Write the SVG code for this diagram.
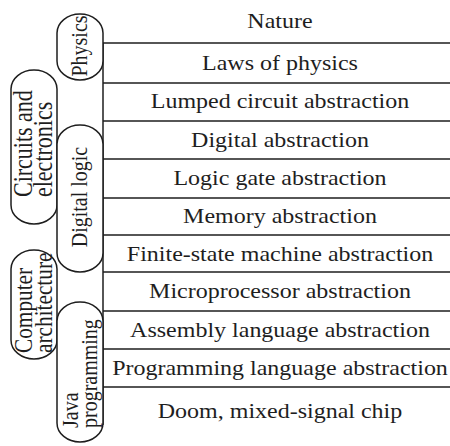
<svg xmlns="http://www.w3.org/2000/svg" width="450" height="446" viewBox="0 0 450 446">
<style>
text{font-family:'Liberation Serif','Times New Roman','DejaVu Serif',serif;fill:#1e1e1e}
.t{font-size:20px;text-anchor:middle}
.l{text-anchor:start}
.p{fill:#fff;stroke:#1e1e1e;stroke-width:1.5}
.ln{stroke:#1e1e1e;stroke-width:1.5;fill:none}
</style>
<rect width="450" height="446" fill="#fff"/>
<g id="connectors">
<line class="ln" x1="103" y1="43" x2="103" y2="425"/>
<line class="ln" x1="103" y1="43" x2="450" y2="43"/>
<line class="ln" x1="103" y1="83" x2="450" y2="83"/>
<line class="ln" x1="103" y1="121" x2="450" y2="121"/>
<line class="ln" x1="103" y1="159" x2="450" y2="159"/>
<line class="ln" x1="103" y1="198" x2="450" y2="198"/>
<line class="ln" x1="103" y1="235" x2="450" y2="235"/>
<line class="ln" x1="103" y1="272" x2="450" y2="272"/>
<line class="ln" x1="103" y1="311" x2="450" y2="311"/>
<line class="ln" x1="103" y1="349" x2="450" y2="349"/>
<line class="ln" x1="103" y1="387" x2="450" y2="387"/>
</g>
<g id="layers" font-family="Liberation Serif, serif">
<text class="t" transform="translate(280,28) scale(1.2,1)">Nature</text>
<text class="t" transform="translate(280,70) scale(1.2,1)">Laws of physics</text>
<text class="t" transform="translate(280,108) scale(1.2,1)">Lumped circuit abstraction</text>
<text class="t" transform="translate(280,147) scale(1.2,1)">Digital abstraction</text>
<text class="t" transform="translate(280,185) scale(1.2,1)">Logic gate abstraction</text>
<text class="t" transform="translate(280,223) scale(1.2,1)">Memory abstraction</text>
<text class="t" transform="translate(280,261) scale(1.2,1)">Finite-state machine abstraction</text>
<text class="t" transform="translate(280,298) scale(1.2,1)">Microprocessor abstraction</text>
<text class="t" transform="translate(280,337) scale(1.2,1)">Assembly language abstraction</text>
<text class="t" transform="translate(280,375) scale(1.2,1)">Programming language abstraction</text>
<text class="t" transform="translate(280,418) scale(1.2,1)">Doom, mixed-signal chip</text>
</g>
<g id="physics">
<rect class="p" x="57" y="14" width="46" height="66" rx="23" ry="19"/>
<text class="t" transform="translate(87,46) scale(1.2,1) rotate(-90)">Physics</text>
</g>
<g id="circuits">
<rect class="p" x="11" y="70" width="46" height="154" rx="23" ry="19"/>
<text class="l" font-size="22" transform="translate(32,197) scale(1.2,1) rotate(-90)">Circuits and</text>
<text class="l" font-size="22" transform="translate(52,197) scale(1.2,1) rotate(-90)">electronics</text>
</g>
<g id="digital-logic">
<rect class="p" x="57" y="125" width="46" height="147" rx="23" ry="19"/>
<text class="t" transform="translate(87,197) scale(1.2,1) rotate(-90)">Digital logic</text>
</g>
<g id="computer-architecture">
<rect class="p" x="11" y="250" width="46" height="109" rx="23" ry="19"/>
<text class="l" font-size="21.3" transform="translate(32,353) scale(1.2,1) rotate(-90)">Computer</text>
<text class="l" font-size="21.3" transform="translate(52,353) scale(1.2,1) rotate(-90)">architecture</text>
</g>
<g id="java-programming">
<rect class="p" x="57" y="302" width="46" height="140" rx="23" ry="19"/>
<text class="l" font-size="20" transform="translate(78,428) scale(1.2,1) rotate(-90)">Java</text>
<text class="l" font-size="20" transform="translate(97,428) scale(1.2,1) rotate(-90)">programming</text>
</g>
</svg>
